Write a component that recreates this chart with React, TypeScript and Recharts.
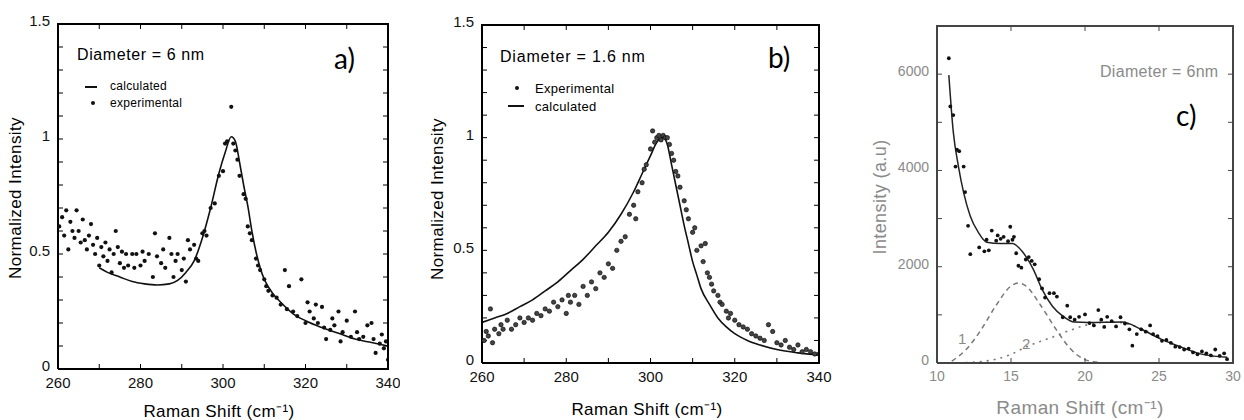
import React from 'react';
import { ComposedChart, Line, Scatter, XAxis, YAxis } from 'recharts';

const FONT = '"Liberation Sans", Arial, sans-serif';

// ---- panel a) diameter 6 nm, normalized intensity ----
const aCalculated = [
  [270, 0.44], [272, 0.42], [275, 0.4], [278, 0.38], [281, 0.37], [284, 0.365],
  [287, 0.37], [289, 0.385], [291, 0.42], [293, 0.47], [295, 0.57], [297, 0.7],
  [299, 0.85], [300.5, 0.94], [302, 1.01], [303, 0.99], [304, 0.9], [305, 0.8],
  [306, 0.71], [307, 0.6], [308, 0.51], [309, 0.44], [310, 0.39], [312, 0.33],
  [314, 0.29], [317, 0.24], [320, 0.21], [324, 0.18], [328, 0.155], [332, 0.13],
  [336, 0.115], [340, 0.1],
];
const aExperimental = [
  [260.3, 0.62], [261, 0.66], [261.5, 0.58], [262, 0.69], [262.5, 0.52], [263, 0.64],
  [263.5, 0.6], [264, 0.57], [264.5, 0.69], [265, 0.6], [265.5, 0.55], [266, 0.65],
  [266.5, 0.56], [267, 0.52], [267.5, 0.58], [268, 0.63], [268.5, 0.54], [269, 0.5],
  [269.5, 0.57], [270, 0.45], [270.5, 0.53], [271, 0.49], [271.5, 0.55], [272, 0.47],
  [272.5, 0.52], [273, 0.42], [273.5, 0.5], [274, 0.6], [274.5, 0.53], [275, 0.46],
  [275.5, 0.51], [276, 0.44], [276.5, 0.5], [277, 0.45], [278, 0.5], [278.5, 0.44],
  [279, 0.5], [280, 0.45], [280.5, 0.51], [281, 0.47], [282, 0.5], [283, 0.4],
  [283.5, 0.59], [284, 0.49], [285, 0.46], [285.5, 0.52], [286, 0.44], [287, 0.57],
  [287.5, 0.5], [288, 0.4], [288.5, 0.47], [289, 0.5], [290, 0.43], [290.5, 0.48],
  [291, 0.38], [291.5, 0.56], [292, 0.52], [293, 0.54], [293.5, 0.48], [294, 0.47],
  [295, 0.59], [295.5, 0.6], [296, 0.58], [297, 0.7], [298, 0.72], [299, 0.84],
  [300, 0.86], [300.5, 0.98], [301, 0.99], [302, 1.14], [302.5, 0.98], [303, 0.95],
  [303.5, 0.91], [304, 0.84], [305, 0.76], [305.5, 0.74], [306, 0.62], [306.5, 0.59],
  [307, 0.56], [308, 0.48], [308.5, 0.45], [309, 0.43], [310, 0.39], [310.5, 0.36],
  [311, 0.34], [312, 0.32], [313, 0.31], [314, 0.28], [315, 0.43], [315.5, 0.26],
  [316, 0.36], [317, 0.25], [318, 0.23], [319, 0.39], [320, 0.2], [320.5, 0.29],
  [321, 0.25], [322, 0.22], [322.5, 0.28], [323, 0.2], [324, 0.27], [324.5, 0.18],
  [325, 0.13], [326, 0.17], [326.5, 0.22], [327, 0.19], [328, 0.25], [328.5, 0.12],
  [329, 0.16], [330, 0.21], [331, 0.14], [332, 0.25], [332.5, 0.16], [333, 0.13],
  [334, 0.14], [335, 0.19], [336, 0.2], [336.5, 0.13], [337, 0.07], [338, 0.11],
  [338.5, 0.15], [339, 0.09], [339.5, 0.12], [340, 0.04],
];

// ---- panel b) diameter 1.6 nm ----
const bCalculated = [
  [260, 0.18], [263, 0.2], [266, 0.22], [269, 0.25], [272, 0.28], [275, 0.32],
  [278, 0.36], [281, 0.41], [284, 0.46], [287, 0.52], [290, 0.58], [293, 0.66],
  [296, 0.76], [298, 0.84], [300, 0.92], [301.5, 0.98], [303, 1.0], [304, 0.97],
  [305, 0.88], [306, 0.79], [307, 0.7], [308, 0.61], [309, 0.53], [310, 0.45],
  [311, 0.39], [312, 0.33], [314, 0.26], [316, 0.2], [318, 0.16], [320, 0.13],
  [323, 0.1], [326, 0.08], [330, 0.06], [335, 0.045], [340, 0.035],
];
const bExperimental = [
  [260.5, 0.1], [261, 0.14], [261.5, 0.12], [262, 0.24], [262.5, 0.09], [263, 0.15],
  [264, 0.13], [264.5, 0.17], [265, 0.15], [266, 0.19], [267, 0.15], [268, 0.17],
  [269, 0.2], [270, 0.18], [271, 0.2], [272, 0.19], [273, 0.22], [274, 0.21],
  [275, 0.24], [276, 0.23], [277, 0.27], [278, 0.25], [279, 0.28], [280, 0.22],
  [280.5, 0.3], [281, 0.27], [282, 0.3], [283, 0.26], [284, 0.34], [285, 0.3],
  [286, 0.36], [287, 0.33], [288, 0.4], [289, 0.38], [290, 0.44], [291, 0.42],
  [292, 0.5], [293, 0.54], [294, 0.56], [295, 0.66], [296, 0.7], [296.5, 0.64],
  [297, 0.76], [298, 0.8], [298.5, 0.86], [299, 0.88], [300, 0.95], [300.5, 1.03],
  [301, 0.98], [301.5, 1.0], [302, 1.01], [302.5, 0.99], [303, 1.01], [303.5, 1.0],
  [304, 1.0], [304.5, 0.97], [305, 0.93], [305.5, 0.9], [306, 0.85], [306.5, 0.83],
  [307, 0.78], [308, 0.72], [308.5, 0.68], [309, 0.64], [310, 0.58], [310.5, 0.6],
  [311, 0.5], [312, 0.52], [312.5, 0.45], [313, 0.53], [313.5, 0.4], [314, 0.38],
  [314.5, 0.35], [315, 0.32], [316, 0.3], [316.5, 0.27], [317, 0.26], [318, 0.23],
  [318.5, 0.2], [319, 0.22], [320, 0.19], [321, 0.17], [322, 0.16], [323, 0.15],
  [324, 0.13], [325, 0.12], [326, 0.11], [327, 0.1], [328, 0.17], [329, 0.14],
  [330, 0.09], [331, 0.08], [332, 0.1], [333, 0.07], [334, 0.06], [335, 0.08],
  [336, 0.05], [337, 0.06], [338, 0.05], [339, 0.04], [340, 0.04],
];

// ---- panel c) diameter 6 nm, low-frequency region ----
const cFit = [
  [10.8, 5980], [11.1, 4800], [11.45, 4080], [11.8, 3540], [12.25, 3050],
  [12.8, 2710], [13.35, 2510], [14.3, 2480], [15.1, 2480], [15.8, 2300],
  [16.5, 1950], [17.1, 1530], [17.8, 1180], [18.5, 975], [19.3, 850],
  [20.2, 840], [22.5, 850], [23.8, 700], [25.1, 500], [26.5, 330],
  [27.8, 190], [29.6, 120],
];
const cPeak1 = [
  [11, 40], [12, 290], [13, 700], [14, 1200], [15, 1600], [15.5, 1660],
  [16, 1600], [17, 1200], [18, 720], [19, 300], [20, 70], [21, 10],
];
const cPeak2 = [
  [11, 0], [12, 10], [13, 30], [14, 80], [15, 180], [16, 330], [17, 450],
  [18, 560], [19, 680], [20, 780], [21, 840], [22, 850], [23, 800], [24, 690],
  [25, 520], [26, 380], [27, 260], [28, 180], [29, 110],
];
const cExperimental = [
  [10.8, 6330], [10.9, 5330], [11.1, 5150], [11.25, 4080], [11.35, 4430], [11.5, 4400],
  [11.8, 4080], [11.9, 3550], [12.1, 2850], [12.25, 2260], [12.85, 2400], [13.2, 2320],
  [13.35, 2560], [13.5, 2340], [13.7, 2750], [14.0, 2540], [14.1, 2650], [14.3, 2580],
  [14.5, 2620], [14.8, 2530], [14.95, 2830], [15.1, 2560], [15.2, 2620], [15.35, 2280],
  [15.5, 2020], [15.7, 1980], [16.0, 2150], [16.2, 2200], [16.4, 2120], [16.6, 2050],
  [16.9, 1740], [17.1, 1550], [17.3, 1360], [17.6, 1450], [17.9, 1450], [18.1, 1380],
  [18.5, 950], [18.8, 1190], [19.0, 950], [19.3, 900], [19.6, 960], [20.0, 1010],
  [20.3, 830], [20.6, 780], [20.9, 1100], [21.1, 900], [21.3, 750], [21.5, 960],
  [21.8, 870], [22.1, 760], [22.4, 950], [22.7, 820], [23.0, 700], [23.2, 360],
  [23.5, 600], [23.8, 700], [24.1, 650], [24.4, 780], [24.6, 600], [24.9, 560],
  [25.2, 460], [25.5, 480], [25.8, 420], [26.1, 340], [26.4, 330], [26.7, 280],
  [27.0, 300], [27.3, 220], [27.6, 180], [27.9, 240], [28.2, 200], [28.5, 160],
  [28.8, 280], [29.1, 150], [29.4, 200], [29.6, 80],
];

// tick positions (major ones get labels)
const ramanTicks = [260, 270, 280, 290, 300, 310, 320, 330, 340];
const ramanLabels = [260, 280, 300, 320, 340];
const normTicks = [0, 0.1, 0.2, 0.3, 0.4, 0.5, 0.6, 0.7, 0.8, 0.9, 1, 1.1, 1.2, 1.3, 1.4, 1.5];
const normLabels = [0, 0.5, 1, 1.5];
const lowTicks = [10, 15, 20, 25, 30];
const intensityTicks = [0, 1000, 2000, 3000, 4000, 5000, 6000, 7000];
const intensityLabels = [0, 2000, 4000, 6000];

const pts = (arr: number[][]) => arr.map(([x, y]) => ({ x, y }));

const dot = (r: number, fill: string, stroke?: string) => (p: any) =>
  <circle cx={p.cx} cy={p.cy} r={r} fill={fill} stroke={stroke || 'none'} strokeWidth={0.6} />;

const MIRROR = 10; // size of the unlabeled top / right axes

// one framed panel: bottom/left axes carry labels, a plain box closes the frame
function Panel(props: any) {
  const { left, width, plot, xDomain, yDomain, xTicks, xLabels, yTicks, yLabels, color, tickColor, fontSize, children } = props;
  const margin = {
    left: plot.l - left - 40,
    right: left + width - plot.r - MIRROR,
    top: plot.t - MIRROR,
    bottom: 420 - plot.b - 30,
  };
  const line = { stroke: color, strokeWidth: 2 };
  const fmt = (labels: number[]) => (v: number) => (labels.some((l) => Math.abs(l - v) < 1e-6) ? String(v) : '');
  const blank = () => '';
  const tickStyle = { fill: tickColor, fontSize, fontFamily: FONT };
  return (
    <>
      <div style={{ position: 'absolute', left, top: 0 }}>
        <ComposedChart width={width} height={420} margin={margin}>
          <XAxis xAxisId="b" dataKey="x" type="number" domain={xDomain} ticks={xTicks} interval={0}
            tickFormatter={fmt(xLabels)} tick={tickStyle} tickSize={-5} tickMargin={13}
            axisLine={line} tickLine={{ stroke: color }} height={30} allowDataOverflow />
          <XAxis xAxisId="t" orientation="top" dataKey="x" type="number" domain={xDomain} ticks={xTicks}
            interval={0} tickFormatter={blank} tick={tickStyle} tickSize={-5} axisLine={line}
            tickLine={{ stroke: color }} height={MIRROR} allowDataOverflow />
          <YAxis yAxisId="l" type="number" domain={yDomain} ticks={yTicks} interval={0}
            tickFormatter={fmt(yLabels)} tick={{ ...tickStyle, dy: -3 }} tickSize={-5} tickMargin={13}
            axisLine={line} tickLine={{ stroke: color }} width={40} allowDataOverflow />
          <YAxis yAxisId="r" orientation="right" type="number" domain={yDomain} ticks={yTicks} interval={0}
            tickFormatter={blank} tick={tickStyle} tickSize={-5} axisLine={line}
            tickLine={{ stroke: color }} width={MIRROR} allowDataOverflow />
          {children}
        </ComposedChart>
      </div>
      <div style={{ position: 'absolute', left: plot.l - 1, top: plot.t - 1, width: plot.r - plot.l + 2,
        height: plot.b - plot.t + 2, borderTop: `2px solid ${color}`, borderRight: `2px solid ${color}`,
        boxSizing: 'border-box', pointerEvents: 'none', zIndex: 5 }} />
    </>
  );
}

function Txt({ x, y, size = 14, color = '#000', font = FONT, spacing = 0, children }: any) {
  return (
    <div style={{ position: 'absolute', left: x, top: y, transform: 'translateY(-50%)', fontSize: size,
      color, fontFamily: font, whiteSpace: 'nowrap', lineHeight: 1, letterSpacing: spacing }}>{children}</div>
  );
}

function VTxt({ x, y, size = 17, color = '#000', spacing = 0.4, children }: any) {
  return (
    <div style={{ position: 'absolute', left: x, top: y, transform: 'translate(-50%, -50%) rotate(-90deg)',
      fontSize: size, color, fontFamily: FONT, whiteSpace: 'nowrap', lineHeight: 1, letterSpacing: spacing }}>{children}</div>
  );
}

function HTxt({ x, y, size = 17, color = '#000', spacing = 0.4, children }: any) {
  return (
    <div style={{ position: 'absolute', left: x, top: y, transform: 'translate(-50%, -50%)',
      fontSize: size, color, fontFamily: FONT, whiteSpace: 'nowrap', lineHeight: 1, letterSpacing: spacing }}>{children}</div>
  );
}

export default function App() {
  const grey = '#8a8a8a';
  return (
    <div style={{ position: 'absolute', left: 0, top: 0, width: 1244, height: 420, background: '#fff', overflow: 'hidden' }}>
      <Panel left={0} width={400} plot={{ l: 58, r: 388, t: 24, b: 369 }} xDomain={[260, 340]} yDomain={[0, 1.5]}
        xTicks={ramanTicks} xLabels={ramanLabels} yTicks={normTicks} yLabels={normLabels}
        color="#000" tickColor="#111" fontSize={15}>
        <Line xAxisId="b" yAxisId="l" data={pts(aCalculated)} dataKey="y" type="monotone" stroke="#111"
          strokeWidth={1.6} dot={false} isAnimationActive={false} />
        <Scatter xAxisId="t" yAxisId="r" data={pts(aExperimental)} dataKey="y" shape={dot(2.1, '#111')}
          isAnimationActive={false} />
      </Panel>

      <Panel left={400} width={440} plot={{ l: 482, r: 819, t: 25, b: 363 }} xDomain={[260, 340]} yDomain={[0, 1.5]}
        xTicks={ramanTicks} xLabels={ramanLabels} yTicks={normTicks} yLabels={normLabels}
        color="#000" tickColor="#111" fontSize={15}>
        <Line xAxisId="b" yAxisId="l" data={pts(bCalculated)} dataKey="y" type="monotone" stroke="#111"
          strokeWidth={1.6} dot={false} isAnimationActive={false} />
        <Scatter xAxisId="t" yAxisId="r" data={pts(bExperimental)} dataKey="y" shape={dot(2.2, '#444', '#000')}
          isAnimationActive={false} />
      </Panel>

      <Panel left={830} width={414} plot={{ l: 937, r: 1233, t: 26, b: 363 }} xDomain={[10, 30]} yDomain={[0, 7000]}
        xTicks={lowTicks} xLabels={lowTicks} yTicks={intensityTicks} yLabels={intensityLabels}
        color="#444" tickColor={grey} fontSize={14}>
        <Line xAxisId="b" yAxisId="l" data={pts(cPeak1)} dataKey="y" type="monotone" stroke="#777"
          strokeWidth={1.5} strokeDasharray="5 4" dot={false} isAnimationActive={false} />
        <Line xAxisId="t" yAxisId="r" data={pts(cPeak2)} dataKey="y" type="monotone" stroke="#777"
          strokeWidth={1.6} strokeDasharray="2 5" dot={false} isAnimationActive={false} />
        <Line xAxisId="b" yAxisId="l" data={pts(cFit)} dataKey="y" type="monotone" stroke="#222"
          strokeWidth={1.5} dot={false} isAnimationActive={false} />
        <Scatter xAxisId="t" yAxisId="r" data={pts(cExperimental)} dataKey="y" shape={dot(1.9, '#111')}
          isAnimationActive={false} />
      </Panel>

      {/* panel a annotations */}
      <VTxt x={15} y={198}>Normalized Intensity</VTxt>
      <HTxt x={219} y={411}>Raman Shift  (cm⁻¹)</HTxt>
      <Txt x={77} y={55} size={16} spacing={0.6}>Diameter = 6 nm</Txt>
      <Txt x={334} y={58} size={28} font="Lato, sans-serif">a)</Txt>
      <div style={{ position: 'absolute', left: 85, top: 86, width: 12, height: 1.5, background: '#111' }} />
      <Txt x={110} y={86} size={12} spacing={0.3}>calculated</Txt>
      <div style={{ position: 'absolute', left: 91, top: 101, width: 4, height: 4, borderRadius: 2, background: '#111' }} />
      <Txt x={110} y={103} size={12} spacing={0.3}>experimental</Txt>

      {/* panel b annotations */}
      <VTxt x={437} y={199}>Normalized Intensity</VTxt>
      <HTxt x={647} y={409}>Raman Shift  (cm⁻¹)</HTxt>
      <Txt x={500} y={57} size={16} spacing={0.8}>Diameter = 1.6 nm</Txt>
      <Txt x={768} y={57} size={28} font="Lato, sans-serif">b)</Txt>
      <div style={{ position: 'absolute', left: 515, top: 86, width: 4, height: 4, borderRadius: 2, background: '#111' }} />
      <Txt x={535} y={88} size={13} spacing={0.3}>Experimental</Txt>
      <div style={{ position: 'absolute', left: 508, top: 105, width: 16, height: 1.5, background: '#111' }} />
      <Txt x={535} y={106} size={13} spacing={0.3}>calculated</Txt>

      {/* panel c annotations */}
      <VTxt x={880} y={197} size={18} color={grey}>Intensity (a.u)</VTxt>
      <HTxt x={1080} y={407} size={19} color={grey}>Raman Shift  (cm⁻¹)</HTxt>
      <Txt x={1100} y={72} size={16} spacing={0.3} color={grey}>Diameter = 6nm</Txt>
      <Txt x={1176} y={115} size={28} font="Lato, sans-serif">c)</Txt>
      <Txt x={958} y={338} size={15} color={grey}>1</Txt>
      <Txt x={1022} y={343} size={15} color={grey}>2</Txt>
    </div>
  );
}
